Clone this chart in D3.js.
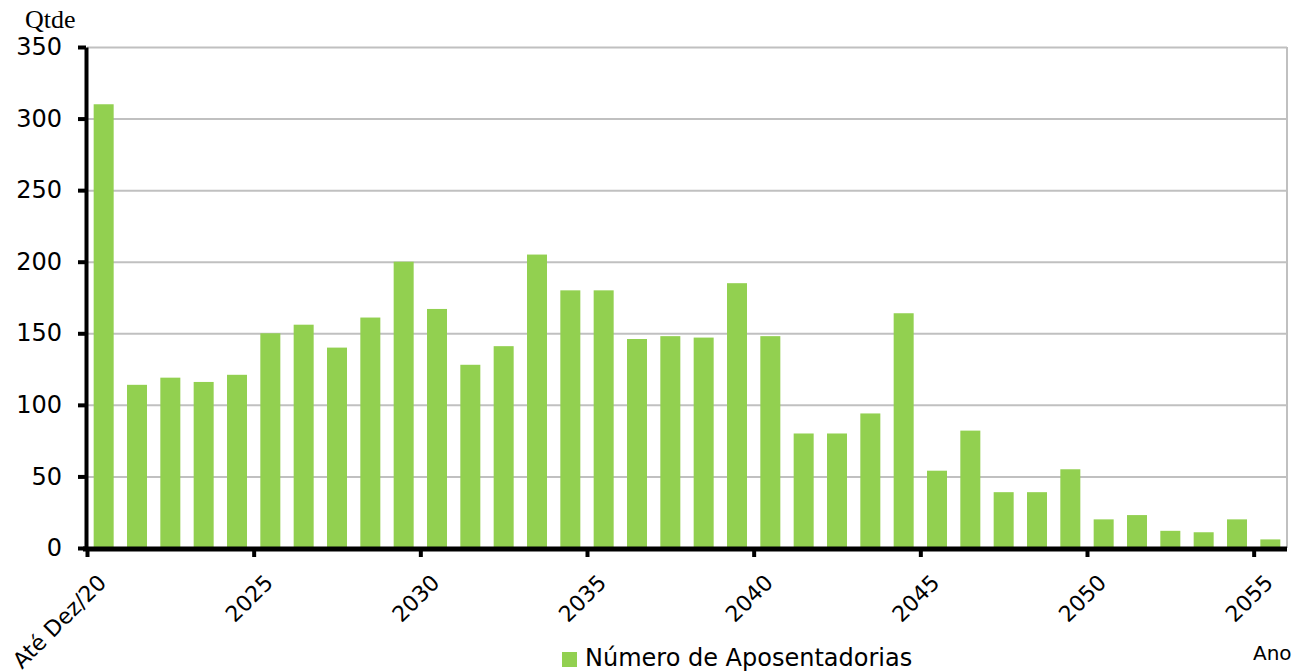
<!DOCTYPE html>
<html>
<head>
<meta charset="utf-8">
<script src="https://cdn.jsdelivr.net/npm/d3@7"></script>
<style>
  body { margin: 0; background: #fff; }
  svg text { font-family: "DejaVu Sans", sans-serif; fill: #000; }
</style>
</head>
<body>
<div id="chart"></div>
<script>
const categories = ['Até Dez/20', '2021', '2022', '2023', '2024', '2025', '2026', '2027', '2028', '2029',
  '2030', '2031', '2032', '2033', '2034', '2035', '2036', '2037', '2038', '2039',
  '2040', '2041', '2042', '2043', '2044', '2045', '2046', '2047', '2048', '2049',
  '2050', '2051', '2052', '2053', '2054', '2055']
const aposentadorias = [310, 114, 119, 116, 121, 150, 156, 140, 161, 200,
  167, 128, 141, 205, 180, 180, 146, 148, 147, 185,
  148, 80, 80, 94, 164, 54, 82, 39, 39, 55,
  20, 23, 12, 11, 20, 6]
const yTicks = [0, 50, 100, 150, 200, 250, 300, 350]
const seriesName = 'Número de Aposentadorias'

const w = 1298
const h = 672
const plotLeft = 87
const plotRight = 1287
const plotTop = 47
const plotBottom = 548

const svg = d3.select('#chart')
  .append('svg')
  .attr('width', w)
  .attr('height', h)

const x = d3.scaleBand()
  .domain(categories)
  .range([plotLeft, plotRight])
  .paddingInner(0.4)
  .paddingOuter(0.2)

// boundaries between categories, for the tick marks
const xb = d3.scaleLinear().domain([0, categories.length]).range([plotLeft, plotRight])

const y = d3.scaleLinear().domain([0, 350]).range([plotBottom, plotTop])

// gridlines
svg.append('g')
  .attr('transform', 'translate(' + plotLeft + ',0)')
  .call(d3.axisLeft(y).tickValues(yTicks.slice(1)).tickSize(-(plotRight - plotLeft)).tickFormat(''))
  .call(g => g.select('.domain').remove())
  .call(g => g.selectAll('line').attr('stroke', '#c0c0c0').attr('stroke-width', 2))

// right border
svg.append('line')
  .attr('x1', plotRight).attr('x2', plotRight)
  .attr('y1', y(350)).attr('y2', y(0))
  .attr('stroke', '#c0c0c0').attr('stroke-width', 2)

// bars
svg.selectAll('rect.bar')
  .data(aposentadorias)
  .enter()
  .append('rect')
  .attr('class', 'bar')
  .attr('x', (d, i) => x(categories[i]))
  .attr('y', d => y(d))
  .attr('width', x.bandwidth())
  .attr('height', d => y(0) - y(d))
  .attr('fill', '#92d050')

// y axis
svg.append('g')
  .attr('transform', 'translate(' + (plotLeft - 1) + ',0)')
  .call(d3.axisLeft(y).tickValues(yTicks).tickSize(8).tickSizeOuter(0).tickPadding(16))
  .call(g => g.select('.domain').attr('stroke', '#000').attr('stroke-width', 4))
  .call(g => g.selectAll('.tick line').attr('stroke', '#000').attr('stroke-width', 4))
  .call(g => g.selectAll('text').attr('font-size', 24).attr('font-family', '"DejaVu Sans", sans-serif'))

// x axis line and tick marks at category boundaries
svg.append('g')
  .attr('transform', 'translate(0,' + (plotBottom + 1) + ')')
  .call(d3.axisBottom(xb).tickValues(d3.range(0, categories.length, 5)).tickSize(8).tickSizeOuter(0).tickFormat(''))
  .call(g => g.select('.domain').attr('stroke', '#000').attr('stroke-width', 5).attr('d', 'M' + (plotLeft - 4) + ',0H' + plotRight))
  .call(g => g.selectAll('.tick line').attr('stroke', '#000').attr('stroke-width', 4))

// x labels, every fifth category, rotated
const labelIdx = d3.range(0, categories.length, 5)
svg.append('g')
  .selectAll('text')
  .data(labelIdx)
  .enter()
  .append('text')
  .attr('transform', i => 'translate(' + (x(categories[i]) + x.bandwidth() / 2 + 4) + ',' + (plotBottom + 36) + ') rotate(-45)')
  .attr('text-anchor', 'end')
  .attr('font-size', 22)
  .text(i => categories[i])

// axis titles
svg.append('text')
  .attr('x', 25).attr('y', 28)
  .attr('font-size', 26)
  .style('font-family', '"Liberation Serif", serif')
  .text('Qtde')

svg.append('text')
  .attr('x', 1253).attr('y', 660)
  .attr('font-size', 20)
  .text('Ano')

// legend
svg.append('rect')
  .attr('x', 562).attr('y', 652)
  .attr('width', 15).attr('height', 15)
  .attr('fill', '#92d050')

svg.append('text')
  .attr('x', 585).attr('y', 666)
  .attr('font-size', 24)
  .text(seriesName)
</script>
</body>
</html>
